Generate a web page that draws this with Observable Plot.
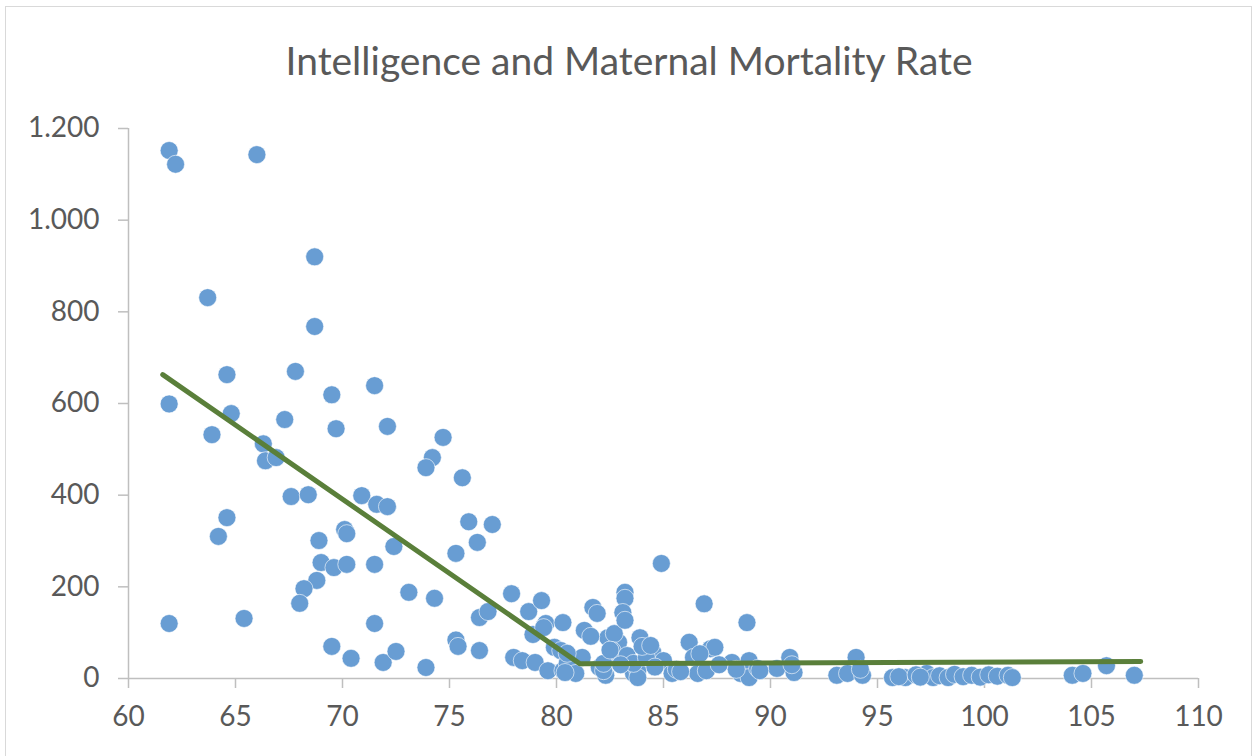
<!DOCTYPE html>
<html><head><meta charset="utf-8">
<script src="https://cdn.jsdelivr.net/npm/d3@7"></script>
<script src="https://cdn.jsdelivr.net/npm/@observablehq/plot@0.6"></script>
<style>
body{margin:0;background:#fff;}
#wrap{position:relative;width:1258px;height:756px;overflow:hidden;font-family:Lato,"Open Sans",sans-serif;background:#fff;}
#frame{position:absolute;left:5px;top:6px;width:1247px;height:760px;border:1.5px solid #d9d9d9;box-sizing:border-box;}
#title{position:absolute;top:35px;left:0;width:1258px;height:50px;line-height:50px;text-align:center;font-size:39px;color:#595959;}
#chart{position:absolute;top:100px;left:0;}
</style></head>
<body>
<div id="wrap"><div id="frame"></div><div id="title">Intelligence and Maternal Mortality Rate</div><div id="chart"></div></div>
<script>
const iq = [61.9,62.2,66.0,68.7,63.7,68.7,64.6,67.8,71.5,69.5,61.9,64.8,67.3,69.7,72.1,63.9,66.3,66.4,66.9,67.6,
68.4,70.9,71.6,72.1,64.6,64.2,70.1,70.2,68.9,72.4,71.5,69.0,69.6,70.2,68.8,68.2,68.0,73.1,61.9,65.4,
71.5,69.5,70.4,71.9,72.5,73.9,74.7,74.2,73.9,75.6,75.9,77.0,76.3,75.3,74.3,76.4,76.8,77.9,78.7,79.3,
79.5,80.3,75.3,75.4,76.4,78.0,78.4,79.0,79.6,78.9,79.4,79.9,80.3,80.2,80.5,80.9,80.4,81.3,81.7,81.9,
82.4,82.9,82.7,83.2,83.2,83.1,83.2,83.9,84.5,82.0,82.3,82.8,83.6,84.2,85.0,85.4,86.2,86.4,87.2,86.9,
84.9,86.6,81.2,80.5,82.2,82.6,83.3,83.8,87.0,83.8,88.9,87.4,86.7,88.2,88.6,89.0,89.0,89.4,90.3,90.9,
91.1,93.1,94.0,93.6,94.3,95.7,96.3,97.3,97.6,89.5,91.0,94.2,82.2,83.6,84.2,84.0,85.6,
82.5,83.0,84.6,85.8,87.6,88.4,81.6,84.4,
96.0,96.8,97.0,97.9,98.3,98.6,99.0,99.4,99.8,100.2,100.6,101.1,101.3,104.1,104.6,105.7,107.0];
const mmr = [1152,1122,1143,920,831,768,663,670,639,619,599,578,565,545,550,532,512,475,482,397,
401,399,380,375,351,310,325,316,301,288,249,253,242,249,214,196,164,188,120,131,
120,70,44,35,59,24,526,482,460,438,342,336,297,273,175,133,146,185,146,170,
120,122,84,70,61,46,39,35,17,96,111,68,17,61,33,11,13,105,155,142,
89,79,98,188,175,144,127,89,57,24,7,46,11,39,39,11,79,46,65,163,
251,11,46,55,17,61,50,17,17,2,122,68,54,35,11,39,2,22,22,46,
13,7,46,11,7,2,2,11,2,17,30,20,33,33,46,70,20,
62,30,25,15,30,20,92,72,
4,8,3,6,2,9,4,7,3,8,5,7,2,7,11,28,7];
const fitIq = [61.6, 81.1, 107.3];
const fitMmr = [663, 32, 37];
const xTicks = [60,65,70,75,80,85,90,95,100,105,110];
const yTicks = [0,200,400,600,800,1000,1200];
const yTickLabels = ["0","200","400","600","800","1.000","1.200"];

const pts = iq.map((x,i)=>({x, y: mmr[i]}));
const fit = fitIq.map((x,i)=>({x, y: fitMmr[i]}));
const chart = Plot.plot({
  width:1258, height:656,
  marginLeft:128, marginRight:60, marginTop:28, marginBottom:78,
  style:{fontFamily:"Lato, 'Open Sans', sans-serif", background:"transparent"},
  x:{domain:[60,110]},
  y:{domain:[0,1200]},
  marks:[
    Plot.axisX({ticks:xTicks, tickSize:10, tickPadding:18, fontSize:28, stroke:"#bfbfbf", strokeWidth:1.5, fill:"#595959", label:null}),
    Plot.axisY({ticks:yTicks, tickSize:10, tickPadding:19, fontSize:28, stroke:"#bfbfbf", strokeWidth:1.5, fill:"#595959", label:null, tickFormat:(d)=>yTickLabels[yTicks.indexOf(d)]}),
    Plot.ruleY([0],{stroke:"#bfbfbf", strokeWidth:1.5}),
    Plot.ruleX([60],{stroke:"#bfbfbf", strokeWidth:1.5}),
    Plot.dot(pts,{x:"x", y:"y", r:9, fill:"#689dd3", stroke:"#ffffff", strokeWidth:0.6}),
    Plot.line(fit,{x:"x", y:"y", stroke:"#5a7f3a", strokeWidth:5})
  ]
});
document.getElementById("chart").appendChild(chart);
</script>
</body></html>
